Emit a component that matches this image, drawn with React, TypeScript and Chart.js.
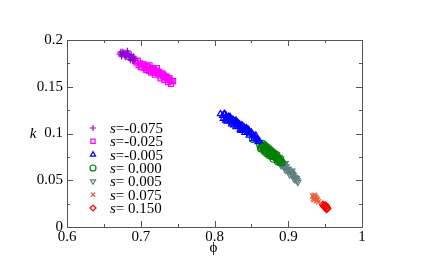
import React, { useEffect, useRef } from "react";
import { Chart, registerables } from "chart.js";
import { drawPoint } from "chart.js/helpers";

Chart.register(...registerables);

const seriesLabels = ["-0.075", "-0.025", "-0.005", " 0.000", " 0.005", " 0.075", " 0.150"];
const seriesColors = ["#9400d3", "#ff00ff", "#0000ff", "#008000", "#5f8080", "#e8603c", "#ff0000"];
const seriesStyles = ["cross", "rect", "triangle", "circle", "triangle", "crossRot", "rectRot"];
const seriesRotation = [0, 0, 0, 0, 180, 0, 0];

const phiA = [0.672, 0.675, 0.678, 0.674, 0.680, 0.683, 0.679, 0.685, 0.688, 0.690, 0.686, 0.692, 0.689, 0.684, 0.673, 0.677, 0.681, 0.687, 0.691, 0.682];
const kA = [0.185, 0.187, 0.184, 0.183, 0.186, 0.185, 0.182, 0.183, 0.181, 0.182, 0.179, 0.180, 0.178, 0.181, 0.187, 0.186, 0.183, 0.184, 0.178, 0.188];

const phiB = [0.694, 0.697, 0.699, 0.701, 0.703, 0.705, 0.706, 0.708, 0.710, 0.711, 0.713, 0.715, 0.716, 0.718, 0.720, 0.721, 0.723, 0.725, 0.726, 0.728, 0.730, 0.731, 0.733, 0.735, 0.736, 0.738, 0.740, 0.742, 0.712, 0.722,
  0.696, 0.700, 0.704, 0.707, 0.709, 0.714, 0.717, 0.719, 0.724, 0.727, 0.729, 0.732, 0.734, 0.737, 0.739, 0.741, 0.744];
const kB = [0.176, 0.173, 0.175, 0.171, 0.174, 0.170, 0.172, 0.168, 0.171, 0.167, 0.169, 0.170, 0.166, 0.168, 0.165, 0.167, 0.164, 0.166, 0.162, 0.164, 0.161, 0.163, 0.160, 0.161, 0.158, 0.159, 0.157, 0.156, 0.173, 0.170,
  0.178, 0.171, 0.174, 0.168, 0.172, 0.165, 0.169, 0.163, 0.166, 0.159, 0.164, 0.157, 0.161, 0.155, 0.159, 0.153, 0.156];

const phiC = [0.808, 0.811, 0.813, 0.815, 0.816, 0.818, 0.819, 0.821, 0.822, 0.824, 0.825, 0.827, 0.828, 0.830, 0.831, 0.833, 0.834, 0.836, 0.837, 0.839, 0.840, 0.842, 0.843, 0.845, 0.846, 0.848, 0.850, 0.852, 0.854, 0.856, 0.858, 0.861, 0.829, 0.821, 0.845,
  0.812, 0.814, 0.817, 0.820, 0.823, 0.826, 0.829, 0.832, 0.835, 0.838, 0.841, 0.844, 0.847, 0.850, 0.853, 0.856, 0.859, 0.815, 0.826, 0.836, 0.847];
const kC = [0.121, 0.119, 0.121, 0.116, 0.119, 0.115, 0.118, 0.113, 0.116, 0.112, 0.115, 0.111, 0.113, 0.109, 0.112, 0.108, 0.110, 0.106, 0.109, 0.105, 0.107, 0.104, 0.106, 0.102, 0.104, 0.100, 0.101, 0.099, 0.097, 0.095, 0.094, 0.092, 0.114, 0.118, 0.104,
  0.116, 0.121, 0.113, 0.117, 0.110, 0.114, 0.107, 0.111, 0.104, 0.108, 0.101, 0.105, 0.098, 0.101, 0.094, 0.098, 0.091, 0.114, 0.109, 0.103, 0.103];

const phiD = [0.852, 0.862, 0.864, 0.866, 0.867, 0.869, 0.870, 0.872, 0.873, 0.875, 0.876, 0.878, 0.879, 0.881, 0.882, 0.884, 0.885, 0.887, 0.888, 0.890, 0.891, 0.874, 0.880, 0.868,
  0.863, 0.865, 0.868, 0.871, 0.874, 0.877, 0.880, 0.883, 0.886, 0.889, 0.871, 0.877, 0.884];
const kD = [0.094, 0.088, 0.085, 0.086, 0.083, 0.084, 0.081, 0.082, 0.080, 0.081, 0.078, 0.079, 0.076, 0.077, 0.075, 0.074, 0.073, 0.072, 0.071, 0.070, 0.069, 0.083, 0.079, 0.087,
  0.084, 0.089, 0.081, 0.085, 0.077, 0.081, 0.073, 0.077, 0.070, 0.073, 0.079, 0.076, 0.077];

const phiE = [0.884, 0.886, 0.888, 0.889, 0.891, 0.892, 0.894, 0.895, 0.897, 0.898, 0.900, 0.901, 0.903, 0.904, 0.906, 0.907, 0.909, 0.910, 0.912, 0.913, 0.896, 0.905,
  0.887, 0.890, 0.893, 0.896, 0.899, 0.902, 0.905, 0.908, 0.911];
const kE = [0.073, 0.070, 0.071, 0.068, 0.069, 0.066, 0.067, 0.064, 0.065, 0.062, 0.062, 0.060, 0.059, 0.057, 0.056, 0.055, 0.053, 0.051, 0.050, 0.048, 0.068, 0.060,
  0.073, 0.066, 0.068, 0.061, 0.062, 0.056, 0.057, 0.051, 0.052];

const phiF = [0.933, 0.935, 0.937, 0.934, 0.936, 0.939, 0.938, 0.940, 0.936, 0.941, 0.935, 0.938, 0.934];
const kF = [0.033, 0.032, 0.031, 0.030, 0.034, 0.030, 0.028, 0.029, 0.032, 0.027, 0.029, 0.032, 0.033];

const phiG = [0.947, 0.949, 0.951, 0.950, 0.952, 0.948, 0.953, 0.950, 0.952];
const kG = [0.024, 0.022, 0.023, 0.021, 0.021, 0.023, 0.020, 0.023, 0.019];

const phiSeries = [phiA, phiB, phiC, phiD, phiE, phiF, phiG];
const kSeries = [kA, kB, kC, kD, kE, kF, kG];

const FONT = "'Liberation Serif', 'Times New Roman', serif";
const FRAME = "#555555";

const framePlugin = {
  id: "frameTicks",
  afterDraw(chart: any) {
    const { ctx, chartArea: a, scales } = chart;
    const xs = scales.x;
    const ys = scales.y;
    ctx.save();
    ctx.strokeStyle = FRAME;
    ctx.lineWidth = 1;
    ctx.strokeRect(a.left + 0.5, a.top + 0.5, a.right - a.left, a.bottom - a.top);
    ctx.beginPath();
    xs.ticks.forEach((t: any) => {
      const px = Math.round(xs.getPixelForValue(t.value)) + 0.5;
      const major = Math.round(t.value * 20) % 2 === 0;
      const len = major ? 6 : 3;
      ctx.moveTo(px, a.bottom);
      ctx.lineTo(px, a.bottom - len);
      ctx.moveTo(px, a.top);
      ctx.lineTo(px, a.top + len);
    });
    ys.ticks.forEach((t: any) => {
      const py = Math.round(ys.getPixelForValue(t.value)) + 0.5;
      const major = Math.round(t.value * 40) % 2 === 0;
      const len = major ? 6 : 3;
      ctx.moveTo(a.left, py);
      ctx.lineTo(a.left + len, py);
      ctx.moveTo(a.right, py);
      ctx.lineTo(a.right - len, py);
    });
    ctx.stroke();

    // axis titles
    ctx.fillStyle = "#000";
    ctx.textAlign = "center";
    ctx.textBaseline = "middle";
    ctx.font = "italic 15px " + FONT;
    ctx.fillText("k", a.left - 34, (a.top + a.bottom) / 2 + 0.5);
    ctx.font = "15px " + FONT;
    ctx.fillText("\u03d5", (a.left + a.right) / 2 - 1, a.bottom + 21);

    // legend
    const mx = a.left + 26;
    const tx = a.left + 43;
    const y0 = a.top + 88;
    const dy = 13.33;
    chart.data.datasets.forEach((ds: any, i: number) => {
      const y = y0 + i * dy;
      ctx.strokeStyle = ds.borderColor;
      ctx.fillStyle = ds.backgroundColor;
      ctx.lineWidth = 1.2;
      drawPoint(ctx, { pointStyle: ds.pointStyle, rotation: ds.rotation || 0, radius: 3, borderWidth: 1.2 }, mx, y);
      ctx.fillStyle = "#000";
      ctx.textAlign = "left";
      ctx.textBaseline = "middle";
      ctx.font = "italic 15px " + FONT;
      ctx.fillText("s", tx, y + 1);
      const w = ctx.measureText("s").width;
      ctx.font = "15px " + FONT;
      ctx.fillText("=" + seriesLabels[i], tx + w, y + 1);
    });
    ctx.restore();
  },
};

export default function App() {
  const ref = useRef<HTMLCanvasElement | null>(null);
  useEffect(() => {
    if (!ref.current) return;
    const datasets = phiSeries.map((phis, i) => ({
      label: "s=" + seriesLabels[i].trim(),
      data: phis.map((p, j) => ({ x: p, y: kSeries[i][j] })),
      borderColor: seriesColors[i],
      backgroundColor: "rgba(0,0,0,0)",
      pointStyle: seriesStyles[i],
      rotation: seriesRotation[i],
      pointRadius: 3.5,
      pointBorderWidth: 1.2,
      showLine: false,
    }));
    const chart = new Chart(ref.current, {
      type: "scatter",
      data: { datasets },
      options: {
        responsive: false,
        animation: false,
        events: [],
        layout: { padding: { left: 0, right: 74, top: 40, bottom: 0 } },
        plugins: { legend: { display: false }, tooltip: { enabled: false } },
        scales: {
          x: {
            type: "linear",
            min: 0.6,
            max: 1.0,
            grid: { display: false, drawTicks: false },
            border: { display: false },
            ticks: {
              stepSize: 0.05,
              autoSkip: false,
              maxRotation: 0,
              padding: 1,
              color: "#000",
              font: { family: FONT, size: 15 },
              callback: (v: any) => {
                const n = Math.round(Number(v) * 20);
                if (n % 2 !== 0) return "";
                return String(Math.round(Number(v) * 10) / 10);
              },
            },
            afterFit: (s: any) => {
              s.height = 41;
            },
          },
          y: {
            type: "linear",
            min: 0,
            max: 0.2,
            grid: { display: false, drawTicks: false },
            border: { display: false },
            ticks: {
              stepSize: 0.025,
              autoSkip: false,
              padding: 4,
              color: "#000",
              font: { family: FONT, size: 15 },
              callback: (v: any) => {
                const n = Math.round(Number(v) * 40);
                if (n % 2 !== 0) return "";
                return String(Math.round(Number(v) * 100) / 100);
              },
            },
            afterFit: (s: any) => {
              s.width = 67;
            },
          },
        },
      },
      plugins: [framePlugin],
    });
    return () => chart.destroy();
  }, []);
  return (
    <div style={{ position: "fixed", left: 0, top: 0, width: 436, height: 268, background: "#fff" }}>
      <canvas ref={ref} width={436} height={268} style={{ width: 436, height: 268 }} />
    </div>
  );
}
